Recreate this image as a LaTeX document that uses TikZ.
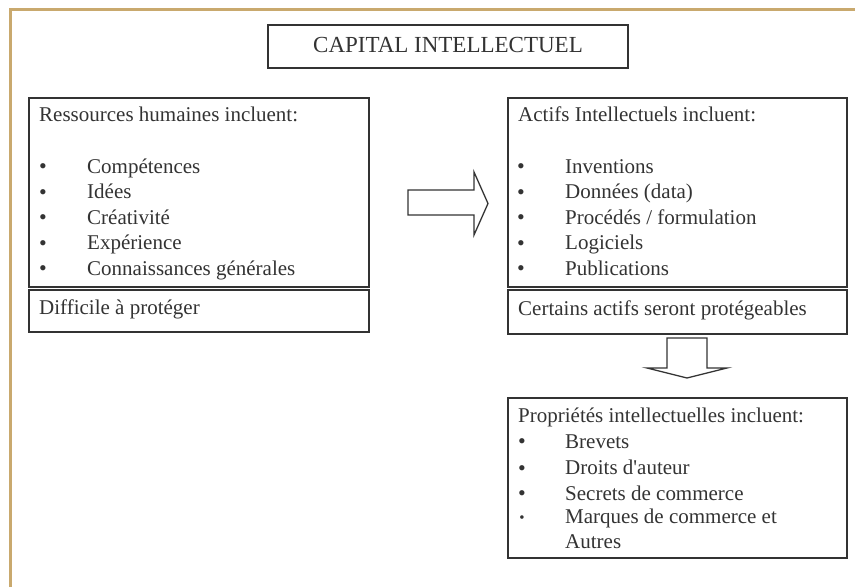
\documentclass[tikz,border=0pt]{standalone}
\usepackage{fontspec}
\setmainfont{Liberation Serif}
\usetikzlibrary{positioning}
\definecolor{cadre}{RGB}{201,169,110}
\definecolor{trait}{RGB}{51,51,51}

\begin{document}
\begin{tikzpicture}[x=1pt,y=-1pt,
    boite/.style={draw=trait,line width=1.6pt,anchor=north west,inner sep=0pt,outer sep=0pt},
    texte/.style={anchor=base west,inner sep=0pt,text=trait,font=\fontsize{21}{25}\selectfont},
    puce/.style={anchor=base,inner sep=0pt,text=trait,font=\fontsize{22}{24}\selectfont},
    fleche/.style={draw=trait,line width=1.3pt,line join=miter,fill=white}]

  \useasboundingbox (0,0) rectangle (855,587);
  % cadre de la page
  \draw[cadre,line width=3pt] (10,587) -- (10,9.5) -- (855,9.5);

  % titre
  \node[boite,minimum width=360pt,minimum height=43pt] (cadretitre) at (268,25) {};
  \node[anchor=base,inner sep=0pt,text=trait,font=\fontsize{23}{27}\selectfont] (titre) at (448,52) {CAPITAL INTELLECTUEL};

  % ressources humaines
  \node[boite,minimum width=340pt,minimum height=189pt] (rh) at (29,98) {};
  \node[texte] (rhtitre) at (39,121) {Ressources humaines incluent:};
  \foreach \nom [count=\i] in {Compétences, Idées, Créativité, Expérience, Connaissances générales} {
    \node[puce] (rhpuce\i) at (43,148+25.5*\i) {•};
    \node[texte] (rh\i) at (87,147.5+25.5*\i) {\nom};
  }
  \node[boite,minimum width=340pt,minimum height=42pt] (diff) at (29,290) {};
  \node[texte] (difftexte) at (39,314) {Difficile à protéger};

  % actifs intellectuels
  \node[boite,minimum width=339pt,minimum height=189pt] (ai) at (508,98) {};
  \node[texte] (aititre) at (518,121) {Actifs Intellectuels incluent:};
  \foreach \nom [count=\i] in {Inventions, Données (data), Procédés / formulation, Logiciels, Publications} {
    \node[puce] (aipuce\i) at (521,148+25.5*\i) {•};
    \node[texte] (ai\i) at (565,147.5+25.5*\i) {\nom};
  }
  \node[boite,minimum width=339pt,minimum height=44pt] (cert) at (508,290) {};
  \node[texte] (certtexte) at (518,315) {Certains actifs seront protégeables};

  % proprietes intellectuelles
  \node[boite,minimum width=339pt,minimum height=160pt] (pi) at (508,398) {};
  \node[texte] (pititre) at (518,422) {Propriétés intellectuelles incluent:};
  \foreach \y/\nom [count=\i] in {448/Brevets, 474.5/Droits d\textquotesingle auteur, 500/Secrets de commerce} {
    \node[puce] (pipuce\i) at (522,\y+0.5) {•};
    \node[texte] (pi\i) at (565,\y) {\nom};
  }
  \node[puce,font=\fontsize{15}{18}\selectfont] (pipuce4) at (522,522) {•};
  \node[texte] (pi4) at (565,523.5) {Marques de commerce et};
  \node[texte] (pi5) at (565,548.5) {Autres};

  % fleches
  \draw[fleche] (408,190) -- (474,190) -- (474,172) -- (488,203.5) -- (474,235)
    -- (474,215) -- (408,215) -- cycle;
  \draw[fleche] (667,338) -- (707,338) -- (707,368) -- (727,368) -- (687,378)
    -- (647,368) -- (667,368) -- cycle;
\end{tikzpicture}
\end{document}
